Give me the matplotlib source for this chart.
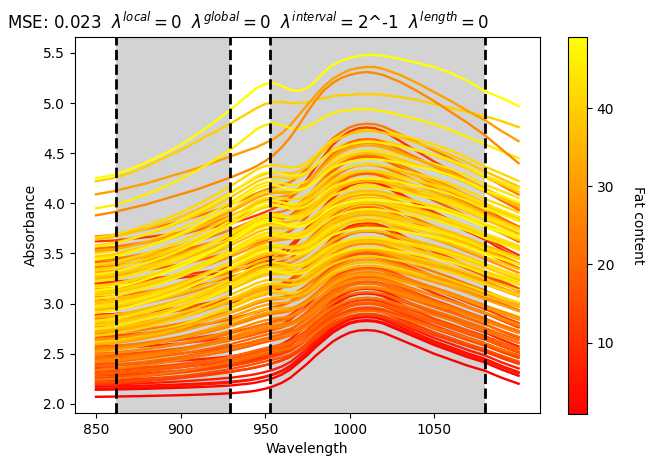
import numpy as np
import matplotlib
matplotlib.use('Agg')
import matplotlib.pyplot as plt
from matplotlib.cm import ScalarMappable

WAVELENGTH = [850, 860, 870, 880, 890, 900, 910, 920, 930, 940, 945, 950,
              955, 960, 965, 970, 975, 980, 985, 990, 995, 1000, 1005, 1010,
              1015, 1020, 1030, 1040, 1050, 1060, 1070, 1080, 1090, 1100]

# Lowest (low fat) spectrum
LOW_CURVE = [2.070, 2.072, 2.075, 2.078, 2.082, 2.086, 2.091, 2.097, 2.105,
             2.120, 2.132, 2.150, 2.175, 2.21, 2.26, 2.33, 2.40, 2.48, 2.55,
             2.62, 2.67, 2.71, 2.73, 2.735, 2.73, 2.71, 2.64, 2.57, 2.50,
             2.44, 2.38, 2.33, 2.26, 2.20]

# Highest (high fat) spectrum
HIGH_CURVE = [4.25, 4.28, 4.34, 4.41, 4.49, 4.58, 4.69, 4.81, 4.94, 5.08,
              5.15, 5.19, 5.20, 5.17, 5.13, 5.12, 5.15, 5.22, 5.31, 5.38,
              5.42, 5.45, 5.47, 5.48, 5.48, 5.47, 5.44, 5.40, 5.36, 5.30,
              5.22, 5.12, 5.05, 4.97]

# The other separated spectra at the top of the plot
TOP_B = [4.22, 4.25, 4.30, 4.37, 4.45, 4.53, 4.62, 4.71, 4.80, 4.90, 4.95,
         4.99, 5.01, 5.01, 5.00, 5.00, 5.01, 5.03, 5.05, 5.07, 5.08, 5.08,
         5.09, 5.09, 5.09, 5.08, 5.06, 5.03, 4.99, 4.95, 4.91, 4.87, 4.82,
         4.76]
TOP_C = [4.09, 4.12, 4.16, 4.20, 4.25, 4.30, 4.35, 4.41, 4.47, 4.53, 4.56,
         4.60, 4.64, 4.70, 4.78, 4.88, 4.98, 5.08, 5.17, 5.24, 5.29, 5.33,
         5.35, 5.36, 5.36, 5.34, 5.28, 5.20, 5.11, 5.02, 4.92, 4.83, 4.72,
         4.62]
TOP_D = [3.95, 3.98, 4.03, 4.09, 4.16, 4.24, 4.33, 4.43, 4.54, 4.67, 4.74,
         4.78, 4.80, 4.78, 4.75, 4.74, 4.76, 4.81, 4.86, 4.90, 4.92, 4.93,
         4.94, 4.94, 4.93, 4.92, 4.88, 4.84, 4.79, 4.73, 4.66, 4.59, 4.52,
         4.45]
TOP_E = [3.88, 3.91, 3.95, 3.99, 4.04, 4.09, 4.14, 4.20, 4.26, 4.33, 4.37,
         4.42, 4.48, 4.56, 4.66, 4.78, 4.91, 5.03, 5.13, 5.20, 5.25, 5.28,
         5.30, 5.31, 5.30, 5.28, 5.21, 5.12, 5.02, 4.91, 4.80, 4.68, 4.54,
         4.40]
TOP_FAT = [40, 31, 46, 27]

# Absorbance at 850 nm and fat content of the remaining samples
START = [4.25, 3.67, 3.66, 3.62, 3.58, 3.55,
         3.53, 3.50, 3.47, 3.46, 3.43, 3.41, 3.38, 3.36, 3.33, 3.31,
         3.28, 3.27, 3.24, 3.21, 3.20, 3.18, 3.16, 3.14, 3.12, 3.10,
         3.08, 3.06, 3.03, 3.01, 2.99, 2.96, 2.94, 2.92, 2.89, 2.88,
         2.86, 2.84, 2.82, 2.80, 2.78, 2.76, 2.73, 2.71, 2.69, 2.67,
         2.65, 2.63, 2.61, 2.59, 2.57, 2.55, 2.54, 2.52, 2.50, 2.48,
         2.46, 2.44, 2.43, 2.41, 2.39, 2.37, 2.35, 2.33, 2.31, 2.30,
         2.28, 2.26, 2.25, 2.23, 2.21, 2.19, 2.17, 2.15, 2.14, 2.07,
         3.64, 3.57, 3.52, 3.44, 3.39, 3.34, 3.29, 3.25, 3.22, 3.17,
         3.13, 3.09, 3.05, 3.02, 2.98, 2.95, 2.91, 2.87, 2.83, 2.79,
         2.75, 2.72, 2.68, 2.64, 2.60, 2.56, 2.53, 2.49, 2.45, 2.42,
         2.38, 2.34, 2.29, 2.24, 2.20]
FAT = [49.1, 24, 42, 12, 40, 22,
       28, 44, 38, 41, 25, 20, 36, 26, 45, 33,
       19, 39, 43, 11, 8, 37, 47, 30, 35, 42,
       44, 23, 21, 40, 34, 46, 29, 38, 9, 15,
       32, 18, 41, 36, 43, 27, 39, 33, 24, 17,
       20, 37, 42, 31, 14, 10, 26, 35, 22, 16,
       19, 13, 28, 21, 7, 18, 4, 15, 12, 20,
       11, 17, 14, 9, 16, 6, 3, 5, 2, 0.9,
       38, 45, 33, 47, 42, 40, 46, 35, 44, 41,
       48, 39, 45, 37, 43, 40, 47, 36, 44, 38,
       45, 34, 41, 29, 36, 25, 30, 27, 23, 26,
       21, 24, 18, 22, 13]

REGIONS = [(862, 929), (953, 1080)]
XTICKS = [850, 900, 950, 1000, 1050]

TITLE = (r'MSE: 0.023  $\lambda^{local} = 0$  $\lambda^{global} = 0$  '
         r'$\lambda^{interval} = $2^-1  $\lambda^{length} = 0$')

low = np.array(LOW_CURVE)
high = np.array(HIGH_CURVE)
rel_low = low / low[0] - 1
rel_high = high / high[0] - 1

fmin, fmax = min(FAT), max(FAT)
cmap = plt.get_cmap('autumn')
norm = plt.Normalize(fmin, fmax)

fig = plt.figure(figsize=(6.51, 4.67), dpi=100)
ax = fig.add_axes([0.115, 0.116, 0.714, 0.805])
cax = fig.add_axes([0.8725, 0.114, 0.029, 0.807])

for lo, hi in REGIONS:
    ax.axvspan(lo, hi, color='lightgray', zorder=0, lw=0)

for a, fat in zip(START, FAT):
    # mix the two reference shapes according to fat content
    phi = (fat - fmin) / (fmax - fmin)
    y = a * (1 + (1 - phi) * rel_low + phi * rel_high)
    ax.plot(WAVELENGTH, y, color=cmap(norm(fat)), lw=1.7, zorder=2)

for curve, fat in zip([TOP_B, TOP_C, TOP_D, TOP_E], TOP_FAT):
    ax.plot(WAVELENGTH, curve, color=cmap(norm(fat)), lw=1.7, zorder=2)

for lo, hi in REGIONS:
    ax.axvline(lo, color='k', ls='--', lw=2, zorder=3)
    ax.axvline(hi, color='k', ls='--', lw=2, zorder=3)

ax.set_xlim(837.5, 1112.5)
ax.set_ylim(1.91, 5.66)
ax.set_xticks(XTICKS)
ax.set_yticks(np.arange(2.0, 5.51, 0.5))
ax.set_xlabel('Wavelength')
ax.set_ylabel('Absorbance')

fig.text(0.011, 0.975, TITLE, ha='left', va='top', fontsize=12)

cbar = fig.colorbar(ScalarMappable(norm=norm, cmap=cmap), cax=cax)
cbar.set_label('Fat content', rotation=270, labelpad=22)

fig.savefig('out.png', dpi=100)
